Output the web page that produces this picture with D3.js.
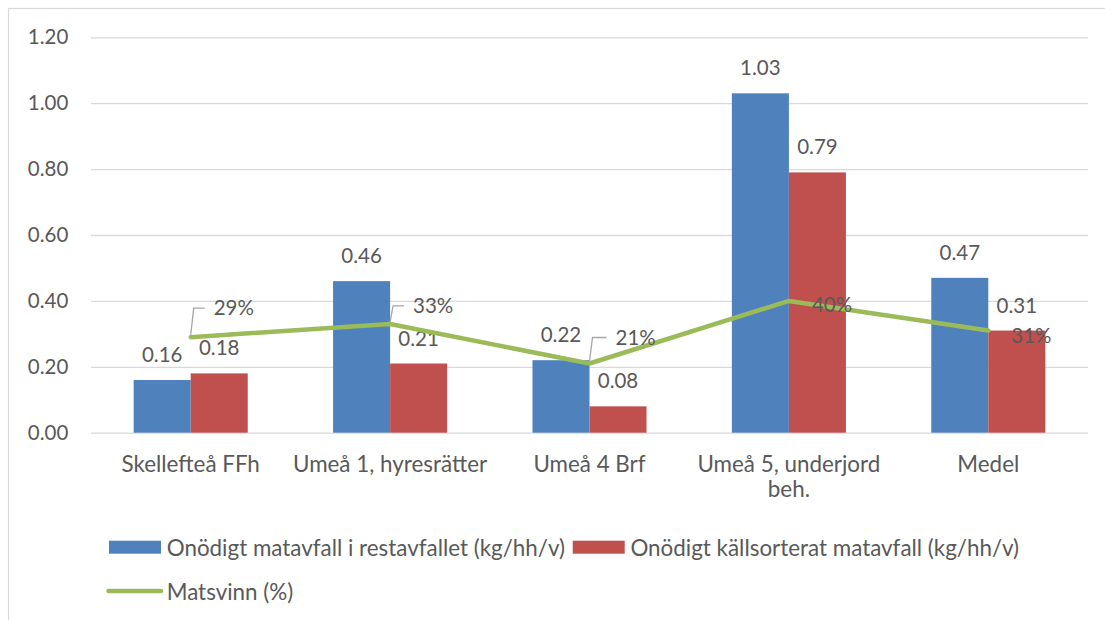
<!DOCTYPE html>
<html>
<head>
<meta charset="utf-8">
<script src="https://cdn.jsdelivr.net/npm/d3@7"></script>
<style>
  html, body { margin: 0; padding: 0; background: #fff; }
  svg text { font-family: Lato, "Open Sans", sans-serif; fill: #595959; }
</style>
</head>
<body>
<svg id="chart" width="1105" height="620"></svg>
<script>
// Data
const categories = ["Skellefteå FFh", "Umeå 1, hyresrätter", "Umeå 4 Brf", "Umeå 5, underjord beh.", "Medel"];
const restavfall = [0.16, 0.46, 0.22, 1.03, 0.47];      // Onödigt matavfall i restavfallet (kg/hh/v)
const kallsorterat = [0.18, 0.21, 0.08, 0.79, 0.31];    // Onödigt källsorterat matavfall (kg/hh/v)
const matsvinn = [0.29, 0.33, 0.21, 0.40, 0.31];        // Matsvinn (andel)
const yTicks = [0, 0.2, 0.4, 0.6, 0.8, 1.0, 1.2];
const seriesNames = [
  "Onödigt matavfall i restavfallet (kg/hh/v)",
  "Onödigt källsorterat matavfall (kg/hh/v)",
  "Matsvinn (%)"
];

// Styling / layout
const colors = ["#4F81BD", "#C0504D", "#9BBB59"];
const textSize = 22.4;    // words
const numSize = 20.5;     // numbers
const plot = { left: 91, right: 1088, top: 37.3, bottom: 432.7 };
// Where each percentage label sits relative to its point: [dx to label left, dy to label middle]
const pctLabelShift = [[23, -30], [23, -19], [26, -27], [23, 3], [23, 4]];

const svg = d3.select("#chart");

// Chart frame
svg.append("rect")
  .attr("x", 8.5).attr("y", 8.5)
  .attr("width", 1200).attr("height", 700)
  .attr("fill", "none").attr("stroke", "#D9D9D9").attr("stroke-width", 1.2);

const y = d3.scaleLinear().domain([0, 1.2]).range([plot.bottom, plot.top]);
const x0 = d3.scaleBand().domain(categories)
  .range([plot.left, plot.right])
  .paddingInner(0.428).paddingOuter(0.214);
const x1 = d3.scaleBand().domain([0, 1]).range([0, x0.bandwidth()]);

// Gridlines + y axis labels
const yAxis = d3.axisLeft(y).tickValues(yTicks).tickFormat(d3.format(".2f"))
  .tickSize(-(plot.right - plot.left)).tickPadding(22.7);
const gy = svg.append("g").attr("transform", `translate(${plot.left},0)`).call(yAxis);
gy.select(".domain").remove();
gy.selectAll(".tick line").attr("stroke", "#D9D9D9").attr("stroke-width", 1.3);
gy.selectAll(".tick text")
  .attr("font-size", numSize).attr("fill", "#595959")
  .style("font-family", "Lato, sans-serif");

// Bars
const seriesValues = [restavfall, kallsorterat];
const groups = svg.append("g").selectAll("g")
  .data(categories).join("g")
  .attr("transform", d => `translate(${x0(d)},0)`);

groups.selectAll("rect")
  .data((d, i) => seriesValues.map((vals, s) => ({ s, v: vals[i] })))
  .join("rect")
  .attr("x", d => x1(d.s))
  .attr("y", d => y(d.v))
  .attr("width", x1.bandwidth())
  .attr("height", d => y(0) - y(d.v))
  .attr("fill", d => colors[d.s]);

groups.selectAll("text.val")
  .data((d, i) => seriesValues.map((vals, s) => ({ s, v: vals[i] })))
  .join("text")
  .attr("class", "val")
  .attr("x", d => x1(d.s) + x1.bandwidth() / 2)
  .attr("y", d => y(d.v) - 18)
  .attr("text-anchor", "middle")
  .attr("font-size", numSize)
  .attr("fill", "#404040")
  .text(d => d3.format(".2f")(d.v));

// Category labels (wrapped to the band step)
const catG = svg.append("g");
const maxLabelWidth = x0.step() + 2;
categories.forEach(c => {
  const cxPos = x0(c) + x0.bandwidth() / 2;
  const t = catG.append("text")
    .attr("x", cxPos)
    .attr("y", 471.5)
    .attr("text-anchor", "middle")
    .attr("font-size", textSize);
  const words = c.split(" ");
  let line = [];
  let tspan = t.append("tspan").attr("x", cxPos).attr("dy", 0);
  words.forEach(w => {
    line.push(w);
    tspan.text(line.join(" "));
    if (tspan.node().getComputedTextLength() > maxLabelWidth && line.length > 1) {
      line.pop();
      tspan.text(line.join(" "));
      line = [w];
      tspan = t.append("tspan").attr("x", cxPos).attr("dy", 25).text(w);
    }
  });
});

// Matsvinn line
const cx = (d, i) => x0(categories[i]) + x0.bandwidth() / 2;
svg.append("path")
  .datum(matsvinn)
  .attr("fill", "none")
  .attr("stroke", colors[2])
  .attr("stroke-width", 4.5)
  .attr("stroke-linejoin", "round")
  .attr("stroke-linecap", "round")
  .attr("d", d3.line().x(cx).y(d => y(d)));

// Percentage labels with leader lines where moved away from the point
const pctG = svg.append("g");
matsvinn.forEach((v, i) => {
  const px = cx(v, i), py = y(v);
  const [dx, dy] = pctLabelShift[i];
  const lx = px + dx, ly = py + dy;
  if (dy < -10) {
    pctG.append("path")
      .attr("d", `M${px},${py - 2}L${px + 3},${ly + 1}L${lx - 9},${ly + 1}`)
      .attr("fill", "none").attr("stroke", "#A6A6A6").attr("stroke-width", 1.3);
  }
  pctG.append("text")
    .attr("x", lx).attr("y", ly)
    .attr("dominant-baseline", "central")
    .attr("font-size", numSize)
    .attr("fill", "#404040")
    .text(d3.format(".0%")(v));
});

// Legend
const leg = svg.append("g");
let lx = 109;
[0, 1].forEach(s => {
  leg.append("rect").attr("x", lx).attr("y", 540.7).attr("width", 52).attr("height", 13).attr("fill", colors[s]);
  const t = leg.append("text").attr("x", lx + 57.7).attr("y", 547.2)
    .attr("dominant-baseline", "central").attr("font-size", textSize).text(seriesNames[s]);
  lx = lx + 57.7 + t.node().getComputedTextLength() + 7.7;
});
leg.append("line").attr("x1", 108.5).attr("x2", 161).attr("y1", 591).attr("y2", 591)
  .attr("stroke", colors[2]).attr("stroke-width", 4.5).attr("stroke-linecap", "round");
leg.append("text").attr("x", 166.7).attr("y", 591.5)
  .attr("dominant-baseline", "central").attr("font-size", textSize).text(seriesNames[2]);
</script>
</body>
</html>
